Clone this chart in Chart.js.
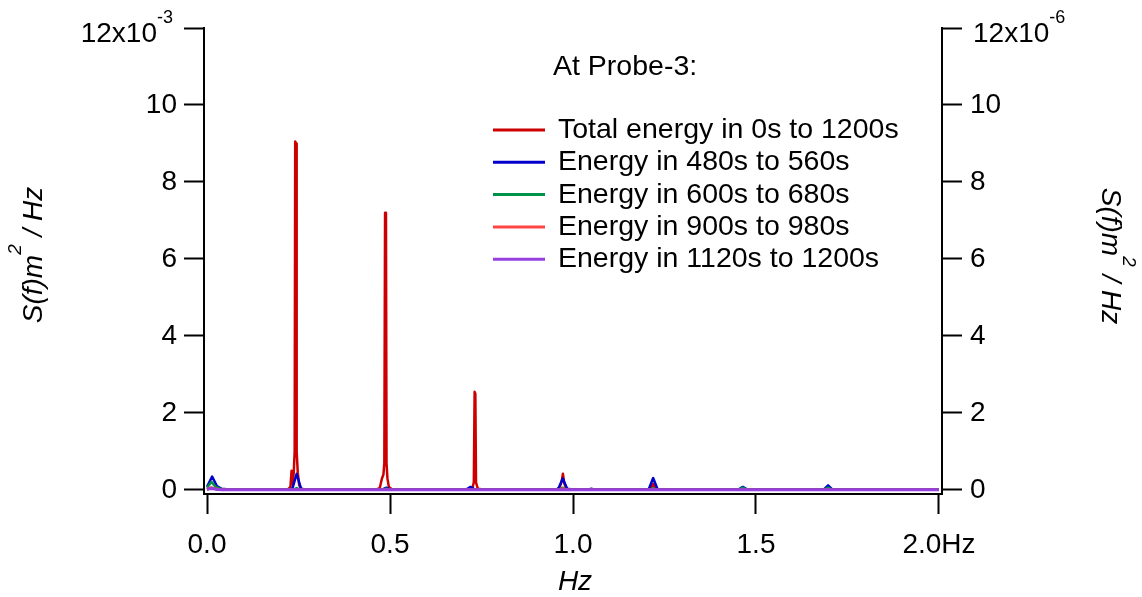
<!DOCTYPE html>
<html>
<head>
<meta charset="utf-8">
<script src="https://cdn.jsdelivr.net/npm/chart.js@4.4.1/dist/chart.umd.min.js"></script>
<style>
  html, body { margin: 0; padding: 0; background: #fff; }
</style>
</head>
<body>
<canvas id="spectrum" width="1142" height="597"></canvas>
<script>
Chart.defaults.font.family = '"Liberation Sans", Arial, sans-serif';
Chart.defaults.font.size = 28;
Chart.defaults.color = '#000';

// tick values
var xTicks = [0, 0.5, 1.0, 1.5, 2.0];
var yTicks = [0, 2, 4, 6, 8, 10, 12];

// legend
var legendTitle = 'At Probe-3:';
var seriesNames = [
  'Total energy in 0s to 1200s',
  'Energy in 480s to 560s',
  'Energy in 600s to 680s',
  'Energy in 900s to 980s',
  'Energy in 1120s to 1200s'
];
var seriesColors = ['#cc0000', '#0000cc', '#00924a', '#ff4444', '#9640e0'];

// S(f) values in units of 1e-3 m^2/Hz
var freq_total = [0, 0.005, 0.012, 0.02, 0.03, 0.1, 0.2, 0.222, 0.228, 0.231, 0.234, 0.237, 0.2395, 0.241, 0.2435, 0.245, 0.248, 0.252, 0.258, 0.27,
  0.4, 0.46, 0.472, 0.478, 0.482, 0.4845, 0.4865, 0.489, 0.4905, 0.493, 0.497, 0.505, 0.52,
  0.6, 0.71, 0.725, 0.729, 0.7312, 0.7332, 0.735, 0.74, 0.76,
  0.9, 0.955, 0.964, 0.969, 0.9725, 0.976, 0.982, 0.99,
  1.1, 1.205, 1.214, 1.219, 1.224, 1.232, 1.3, 2.0];
var s_total = [0.01, 0.04, 0.06, 0.04, 0.01, 0.005, 0.005, 0.02, 0.08, 0.5, 0.15, 0.45, 1.0, 9.05, 9.0, 1.0, 0.45, 0.12, 0.03, 0.005,
  0.005, 0.01, 0.05, 0.3, 0.4, 0.7, 7.2, 7.15, 0.7, 0.3, 0.08, 0.02, 0.005,
  0.005, 0.005, 0.04, 0.2, 2.55, 2.5, 0.2, 0.03, 0.005,
  0.005, 0.01, 0.08, 0.22, 0.42, 0.18, 0.03, 0.005,
  0.005, 0.005, 0.06, 0.16, 0.05, 0.005, 0.005, 0.005];

var freq_480 = [0, 0.014, 0.027, 0.04, 0.06, 0.22, 0.233, 0.245, 0.257, 0.27, 0.478, 0.49, 0.502, 0.708, 0.72, 0.732,
  0.95, 0.96, 0.972, 0.984, 1.0, 1.01, 1.04, 1.05, 1.06, 1.1, 1.195, 1.207, 1.219, 1.231, 1.25,
  1.44, 1.452, 1.464, 1.476, 1.6, 1.685, 1.697, 1.709, 1.8, 2.0];
var s_480 = [0.08, 0.35, 0.1, 0.03, 0.01, 0.01, 0.03, 0.42, 0.03, 0.01, 0.01, 0.06, 0.01, 0.01, 0.08, 0.01,
  0.01, 0.03, 0.3, 0.03, 0.01, 0.02, 0.01, 0.03, 0.01, 0.01, 0.01, 0.02, 0.31, 0.02, 0.01,
  0.01, 0.01, 0.08, 0.01, 0.01, 0.01, 0.12, 0.01, 0.01, 0.005];

var freq_600 = [0, 0.012, 0.025, 0.04, 0.06, 0.233, 0.245, 0.257, 0.478, 0.49, 0.502, 0.96, 0.972, 0.984,
  1.207, 1.219, 1.231, 1.452, 1.464, 1.476, 1.685, 1.697, 1.709, 2.0];
var s_600 = [0.06, 0.21, 0.07, 0.02, 0.005, 0.005, 0.05, 0.005, 0.005, 0.03, 0.005, 0.005, 0.06, 0.005,
  0.005, 0.04, 0.005, 0.005, 0.06, 0.005, 0.005, 0.06, 0.005, 0.005];

var freq_900 = [0, 0.012, 0.025, 0.04, 0.96, 0.972, 0.984, 2.0];
var s_900 = [0.02, 0.06, 0.03, 0.005, 0.005, 0.04, 0.005, 0.005];

var freq_1120 = [0, 0.012, 0.025, 0.04, 2.0];
var s_1120 = [0.02, 0.04, 0.02, 0.008, 0.008];

function pts(fs, vs) {
  return fs.map(function (f, i) { return { x: f, y: vs[i] }; });
}

var allFreq = [freq_total, freq_480, freq_600, freq_900, freq_1120];
var allVals = [s_total, s_480, s_600, s_900, s_1120];

var datasets = seriesNames.map(function (name, i) {
  return {
    label: name,
    data: pts(allFreq[i], allVals[i]),
    borderColor: seriesColors[i],
    backgroundColor: seriesColors[i],
    borderWidth: i == 4 ? 3 : 2.5,
    borderJoinStyle: 'round',
    pointRadius: 0,
    tension: 0,
    fill: false,
    order: 5 - i
  };
});

function axisGrid() {
  return { drawOnChartArea: false, drawTicks: true, tickLength: 20, tickWidth: 2, tickColor: '#000' };
}
function axisBorder() {
  return { display: true, color: '#000', width: 2 };
}

// draws a run of text pieces (some raised/smaller) starting at x
function drawPieces(ctx, pieces, x, y) {
  pieces.forEach(function (p) {
    ctx.font = (p.italic ? 'italic ' : '') + p.size + 'px "Liberation Sans", Arial, sans-serif';
    ctx.fillText(p.t, x, y - (p.rise || 0));
    x += ctx.measureText(p.t).width;
  });
  return x;
}
function piecesWidth(ctx, pieces) {
  var w = 0;
  pieces.forEach(function (p) {
    ctx.font = (p.italic ? 'italic ' : '') + p.size + 'px "Liberation Sans", Arial, sans-serif';
    w += ctx.measureText(p.t).width;
  });
  return w;
}

var yTitle = [
  { t: 'S(f)m', size: 28, italic: true },
  { t: '2', size: 19, italic: true, rise: 21 },
  { t: ' / Hz', size: 28, italic: true }
];

var textPlugin = {
  id: 'textPlugin',
  afterDraw: function (chart) {
    var ctx = chart.ctx;
    ctx.save();
    ctx.fillStyle = '#000';
    ctx.textBaseline = 'alphabetic';
    ctx.textAlign = 'left';

    // top tick labels with exponents
    ctx.font = '28px "Liberation Sans", Arial, sans-serif';
    var w = ctx.measureText('12x10').width;
    drawPieces(ctx, [{ t: '12x10', size: 28 }], 157 - w, 42);
    drawPieces(ctx, [{ t: '-3', size: 18 }], 157, 23);
    drawPieces(ctx, [{ t: '12x10', size: 28 }, { t: '-6', size: 18, rise: 19 }], 973, 42);

    // x title
    ctx.font = 'italic 28px "Liberation Sans", Arial, sans-serif';
    ctx.textAlign = 'center';
    ctx.fillText('Hz', 575, 590);
    ctx.textAlign = 'left';

    // left y title
    var tw = piecesWidth(ctx, yTitle);
    ctx.save();
    ctx.translate(42, 255);
    ctx.rotate(-Math.PI / 2);
    drawPieces(ctx, yTitle, -tw / 2, 0);
    ctx.restore();

    // right y title
    ctx.save();
    ctx.translate(1102, 256);
    ctx.rotate(Math.PI / 2);
    drawPieces(ctx, yTitle, -tw / 2, 0);
    ctx.restore();

    // legend
    ctx.font = '28.5px "Liberation Sans", Arial, sans-serif';
    ctx.fillText(legendTitle, 553, 75);
    seriesNames.forEach(function (name, i) {
      var ly = 130 + i * 32.3;
      ctx.strokeStyle = seriesColors[i];
      ctx.lineWidth = 3;
      ctx.beginPath();
      ctx.moveTo(493, ly);
      ctx.lineTo(545, ly);
      ctx.stroke();
      ctx.fillText(name, 558, ly + 8);
    });
    ctx.restore();
  }
};

var chart = new Chart(document.getElementById('spectrum'), {
  type: 'line',
  data: { datasets: datasets },
  options: {
    responsive: false,
    animation: false,
    layout: { padding: { top: 28, left: 0, right: 0, bottom: 0 } },
    plugins: { legend: { display: false }, tooltip: { enabled: false }, title: { display: false } },
    scales: {
      x: {
        type: 'linear',
        position: 'bottom',
        min: -0.0082,
        max: 2.0082,
        afterBuildTicks: function (ax) { ax.ticks = xTicks.map(function (v) { return { value: v }; }); },
        afterFit: function (s) { s.height = 103; },
        ticks: {
          autoSkip: false,
          maxRotation: 0,
          padding: 14,
          callback: function (v) { return v == 2 ? '2.0Hz' : v.toFixed(1); }
        },
        grid: axisGrid(),
        border: axisBorder()
      },
      y: {
        type: 'linear',
        position: 'left',
        min: -0.104,
        max: 12,
        afterBuildTicks: function (ax) { ax.ticks = yTicks.map(function (v) { return { value: v }; }); },
        afterFit: function (s) { s.width = 204; },
        ticks: { padding: 7, callback: function (v) { return v == 12 ? '' : String(v); } },
        grid: axisGrid(),
        border: axisBorder()
      },
      y2: {
        type: 'linear',
        position: 'right',
        min: -0.104,
        max: 12,
        afterBuildTicks: function (ax) { ax.ticks = yTicks.map(function (v) { return { value: v }; }); },
        afterFit: function (s) { s.width = 200; },
        ticks: { padding: 8, callback: function (v) { return v == 12 ? '' : String(v); } },
        grid: axisGrid(),
        border: axisBorder()
      }
    }
  },
  plugins: [textPlugin]
});
</script>
</body>
</html>
